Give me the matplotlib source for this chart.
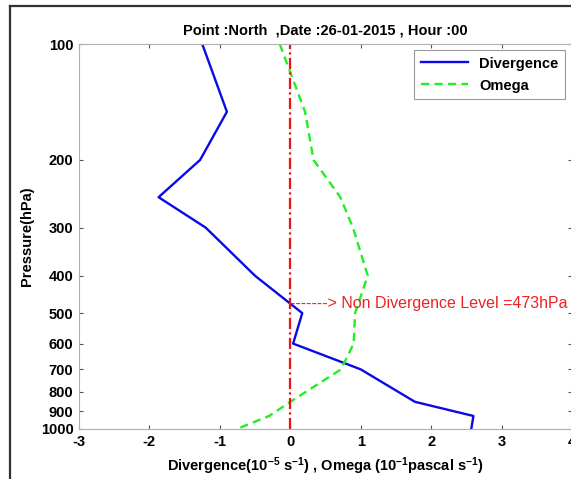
import matplotlib
matplotlib.use("Agg")
import matplotlib.pyplot as plt
from matplotlib.lines import Line2D

plt.rcParams['font.family'] = ['Liberation Sans', 'DejaVu Sans']
plt.rcParams['mathtext.fontset'] = 'custom'
plt.rcParams['mathtext.rm'] = 'Liberation Sans:bold'
plt.rcParams['mathtext.bf'] = 'Liberation Sans:bold'
plt.rcParams['mathtext.default'] = 'bf'

pressure_div = [100, 150, 200, 250, 300, 400, 500, 600, 700, 850, 925, 1000]
divergence = [-1.25, -0.9, -1.28, -1.87, -1.2, -0.5, 0.17, 0.04, 1.0, 1.77, 2.6, 2.57]

pressure_omega = [100, 150, 200, 250, 300, 400, 500, 600, 700, 850, 925, 1000]
omega = [-0.15, 0.21, 0.33, 0.71, 0.89, 1.1, 0.92, 0.9, 0.72, 0.0, -0.3, -0.76]

x_ticks = [-3, -2, -1, 0, 1, 2, 3, 4]
y_ticks = [100, 200, 300, 400, 500, 600, 700, 800, 900, 1000]
non_div_level = 473

fig = plt.figure(figsize=(5.71, 4.79), dpi=100)
ax = fig.add_axes([79/571, 1-429/479, (572-79)/571, (429-44)/479])

ax.plot(divergence, pressure_div, color='#0a0ae6', lw=1.7, label='Divergence')
ax.plot(omega, pressure_omega, color='#22ee22', lw=1.7, ls=(0, (3.5, 2.2)), label='Omega')
ax.axvline(0, color='#ee1111', lw=1.6, ls=(0, (5, 1.5, 1, 1.5)))

ax.set_yscale('log')
ax.set_ylim(1000, 100)
ax.set_xlim(-3, 4)
ax.set_yticks(y_ticks)
ax.set_yticklabels([str(v) for v in y_ticks])
ax.yaxis.set_minor_locator(matplotlib.ticker.NullLocator())
ax.set_xticks(x_ticks)
ax.set_xticklabels([str(v) for v in x_ticks])

for s in ax.spines.values():
    s.set_color('#b0b0b0')
    s.set_linewidth(0.8)
ax.tick_params(direction='in', length=3, width=0.8, color='#555555',
               top=True, right=True, labelsize=10.5, pad=4)
for lab in ax.get_xticklabels() + ax.get_yticklabels():
    lab.set_fontweight('bold')

ax.text(0.0, non_div_level, '-------> Non Divergence Level =473hPa', color='#ee2222',
        fontsize=11.5, ha='left', va='center', clip_on=False)

ax.set_title('Point :North  ,Date :26-01-2015 , Hour :00', fontsize=10.5,
             fontweight='bold', pad=7)
ax.set_xlabel(r'Divergence(10$^{-5}$ s$^{-1}$) , Omega (10$^{-1}$pascal s$^{-1}$)',
              fontsize=10.5, fontweight='bold', labelpad=5)
ax.set_ylabel('Pressure(hPa)', fontsize=10.5, fontweight='bold', labelpad=5)

leg = ax.legend(loc='upper right', bbox_to_anchor=(565/571, 1-50/479),
                bbox_transform=fig.transFigure, fancybox=False, framealpha=1,
                edgecolor='#999999', prop={'weight': 'bold', 'size': 10.5},
                handlelength=3.2, borderpad=0.45, labelspacing=0.55,
                borderaxespad=0)
leg.get_frame().set_linewidth(0.8)

fig.add_artist(Line2D([10/571, 10/571], [0, 1-6/479], transform=fig.transFigure,
                      color='#333333', lw=1.6))
fig.add_artist(Line2D([10/571, 1], [1-6/479, 1-6/479], transform=fig.transFigure,
                      color='#333333', lw=1.6))

fig.savefig('out.png', dpi=100)
